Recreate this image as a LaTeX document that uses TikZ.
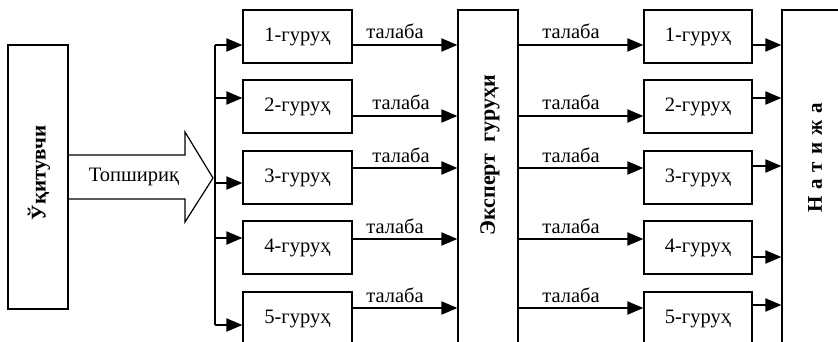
\documentclass[tikz,border=0pt]{standalone}
\usepackage{fontspec}
\setmainfont{Liberation Serif}
\usetikzlibrary{arrows.meta}
\begin{document}
\begin{tikzpicture}[x=1pt,y=-1pt,
  box/.style={draw, line width=1.2pt, minimum height=53pt, inner sep=0pt, font=\fontsize{20.5}{24}\selectfont},
  lbox/.style={box, minimum width=109pt},
  rbox/.style={box, minimum width=108pt},
  bigbox/.style={draw, line width=1.2pt, inner sep=0pt},
  conn/.style={line width=2pt, -{Triangle[length=16pt,width=13pt]}},
  bus/.style={line width=2pt},
  lab/.style={font=\fontsize{20.5}{24}\selectfont, anchor=base, inner sep=0pt},
  vtext/.style={font=\bfseries\fontsize{21}{24}\selectfont, rotate=90, inner sep=0pt}]
\path[use as bounding box, clip] (0,0) rectangle (838,342);

% teacher
\node[bigbox, minimum width=60pt, minimum height=264pt] (T) at (38,177) {};
\node[vtext] (Ttext) at (39,173) {Ўқитувчи};

% big arrow
\draw[line width=1.2pt] (T.east |- 0,155) -- (185,155) -- (185,132) -- (213,178) -- (185,222) -- (185,199) -- (T.east |- 0,199);
\node[font=\fontsize{20.5}{24}\selectfont, inner sep=0pt] (task) at (134,177) {Топшириқ};

% bus
\coordinate (b1) at (215,45);
\coordinate (b2) at (215,98);
\coordinate (b3) at (215,183);
\coordinate (b4) at (215,238);
\coordinate (b5) at (215,325);
\draw[bus] (b1) -- (b5);

% left groups
\node[lbox] (L1) at (297.5,36.5) {1-гуруҳ};
\node[lbox] (L2) at (297.5,106.5) {2-гуруҳ};
\node[lbox] (L3) at (297.5,177.5) {3-гуруҳ};
\node[lbox] (L4) at (297.5,247.5) {4-гуруҳ};
\node[lbox] (L5) at (297.5,318.5) {5-гуруҳ};

\draw[conn] (b1) -- (L1.west |- b1);
\draw[conn] (b2) -- (L2.west |- b2);
\draw[conn] (b3) -- (L3.west |- b3);
\draw[conn] (b4) -- (L4.west |- b4);
\draw[conn] (b5) -- (L5.west |- b5);

% expert box
\node[bigbox, minimum width=60pt, minimum height=360pt] (E) at (488,190) {};
\node[vtext, font=\bfseries\fontsize{22}{24}\selectfont] (Etext) at (490,155) {Эксперт\ \ гуруҳи};

% left group -> expert
\draw[conn] (L1.east |- 0,45) -- (E.west |- 0,45);
\draw[conn] (L2.east |- 0,116) -- (E.west |- 0,116);
\draw[conn] (L3.east |- 0,168) -- (E.west |- 0,168);
\draw[conn] (L4.east |- 0,239) -- (E.west |- 0,239);
\draw[conn] (L5.east |- 0,308) -- (E.west |- 0,308);
\node[lab] (t1) at (395,39) {талаба};
\node[lab] (t2) at (401,110) {талаба};
\node[lab] (t3) at (401,162) {талаба};
\node[lab] (t4) at (395,233) {талаба};
\node[lab] (t5) at (395,302) {талаба};

% right groups
\node[rbox] (R1) at (698,36.5) {1-гуруҳ};
\node[rbox] (R2) at (698,106.5) {2-гуруҳ};
\node[rbox] (R3) at (698,177.5) {3-гуруҳ};
\node[rbox] (R4) at (698,247.5) {4-гуруҳ};
\node[rbox] (R5) at (698,318.5) {5-гуруҳ};

% expert -> right groups
\draw[conn] (E.east |- 0,45) -- (R1.west |- 0,45);
\draw[conn] (E.east |- 0,116) -- (R2.west |- 0,116);
\draw[conn] (E.east |- 0,168) -- (R3.west |- 0,168);
\draw[conn] (E.east |- 0,239) -- (R4.west |- 0,239);
\draw[conn] (E.east |- 0,308) -- (R5.west |- 0,308);
\node[lab] (s1) at (571,39) {талаба};
\node[lab] (s2) at (571,110) {талаба};
\node[lab] (s3) at (571,162) {талаба};
\node[lab] (s4) at (571,233) {талаба};
\node[lab] (s5) at (571,302) {талаба};

% result box
\node[bigbox, minimum width=80pt, minimum height=360pt] (N) at (822,190) {};
\node[vtext] (Ntext) at (815,158) {Н\kern7pt а\kern7pt т\kern7pt и\kern7pt ж\kern7pt а};

% right groups -> result
\draw[conn] (R1.east |- 0,45) -- (N.west |- 0,45);
\draw[conn] (R2.east |- 0,98) -- (N.west |- 0,98);
\draw[conn] (R3.east |- 0,166) -- (N.west |- 0,166);
\draw[conn] (R4.east |- 0,257) -- (N.west |- 0,257);
\draw[conn] (R5.east |- 0,305) -- (N.west |- 0,305);
\end{tikzpicture}
\end{document}
